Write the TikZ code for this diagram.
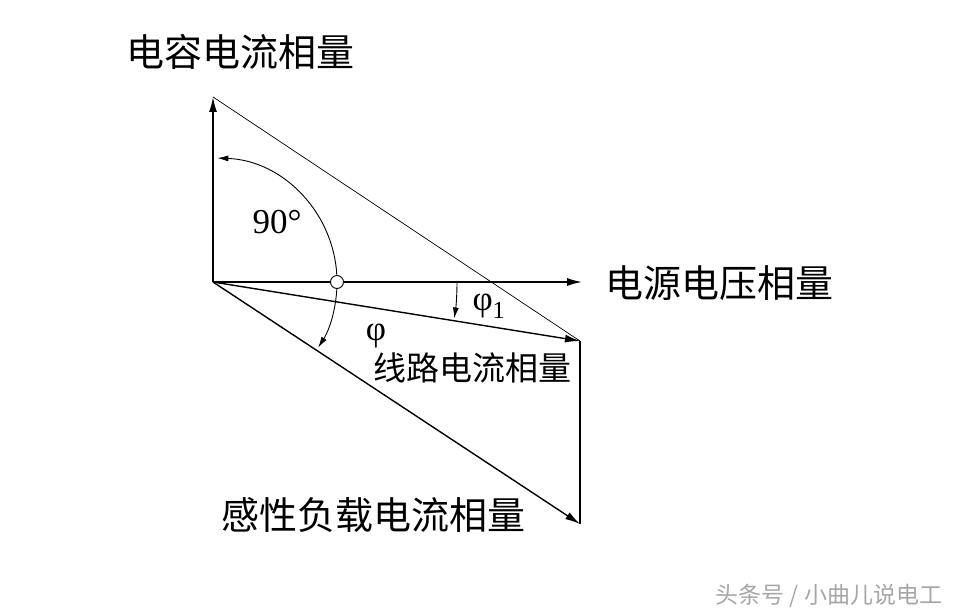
\documentclass[tikz,border=0pt]{standalone}
\usepackage{fontspec}
\setmainfont{Liberation Serif}
\newfontfamily\cjk{Noto Sans CJK SC}
\usetikzlibrary{arrows.meta}

\begin{document}
\begin{tikzpicture}[x=1pt, y=-1pt,
    vec/.style={line width=1.4pt, -{Latex[length=15pt,width=8pt]}},
    angarc/.style={line width=0.9pt, -{Latex[length=11pt,width=6pt]}},
    lbl/.style={font=\fontsize{38}{40}\selectfont\cjk, inner sep=0pt},
    sym/.style={font=\fontsize{35}{37}\selectfont, inner sep=0pt}]
  \useasboundingbox (0,0) rectangle (962,615);

  \coordinate (O)  at (213,282);
  \coordinate (ic) at (213,97);
  \coordinate (u)  at (582,282);
  \coordinate (i)  at (580,341);
  \coordinate (il) at (580,524);

  % phasors
  \draw[vec] (O) -- (ic);
  \draw[vec] (O) -- (u);
  \draw[vec] (O) -- (i);
  \draw[vec] (O) -- (il);
  \draw[line width=1.4pt] (i) -- (il);
  \draw[line width=0.7pt] (ic) -- (i);

  % angles
  \draw[angarc] (337,282) arc[start angle=0, end angle=-88, radius=124];
  \draw[angarc] (337,282) arc[start angle=0, end angle=32, radius=124];
  \draw[angarc] (457,282) arc[start angle=0, end angle=8.6, radius=244];
  \node (pivot) [circle, draw, line width=0.9pt, fill=white, minimum size=13pt, inner sep=0pt] at (337,282) {};

  \node (cap)  [lbl] at (240,52)  {电容电流相量};
  \node (volt) [lbl] at (719,283) {电源电压相量};
  \node (line) [lbl, font=\fontsize{33}{35}\selectfont\cjk] at (472,368) {线路电流相量};
  \node (load) [lbl] at (373,515) {感性负载电流相量};
  \node (ninety) [sym] at (277,222) {90°};
  \node (phi)  [sym] at (376,336) {φ};
  \node (phione) [sym] at (489,306) {φ\textsubscript{1}};

  \node (mark) [font=\fontsize{23}{25}\selectfont\cjk, text=black!35, inner sep=0pt] at (829,596) {头条号 / 小曲儿说电工};
\end{tikzpicture}
\end{document}
